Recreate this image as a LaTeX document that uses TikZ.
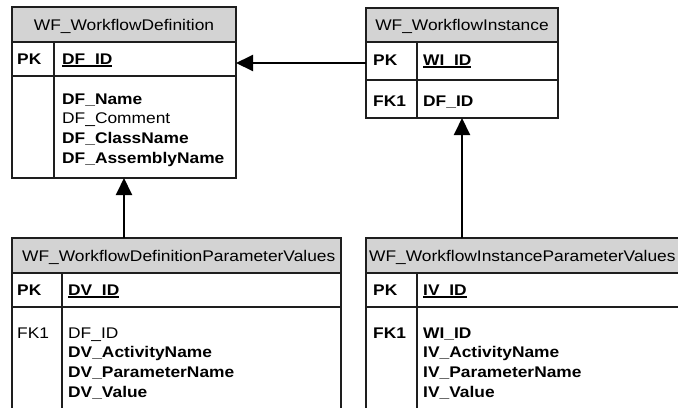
\documentclass[tikz,border=0pt]{standalone}
\usepackage{fontspec}
\setmainfont{Liberation Sans}[FakeStretch=1.125]
\usetikzlibrary{arrows.meta}
\definecolor{hdrgray}{HTML}{D3D3D3}
\definecolor{edgegray}{HTML}{1E1E1E}

% primary-key column text: underlined just below the baseline
\newcommand\pkname[1]{\setbox0\hbox{#1}\rlap{\rule[-2.6bp]{\wd0}{1.3bp}}\box0}

\begin{document}
\begin{tikzpicture}[x=1bp,y=-1bp,
  tbl/.style={draw=edgegray, line width=1.1bp, inner sep=0, outer sep=0, anchor=north west},
  hdr/.style={tbl, fill=hdrgray},
  sep/.style={draw=edgegray, line width=1.1bp},
  txt/.style={anchor=base west, inner sep=0, font=\fontsize{15.5}{18}\selectfont},
  btxt/.style={txt, font=\fontsize{15.5}{18}\selectfont\bfseries},
  htxt/.style={anchor=base, inner sep=0, font=\fontsize{15.5}{18}\selectfont},
  rel/.style={draw=black, line width=2bp, -{Triangle[length=17bp,width=16bp]}}]
\useasboundingbox (0,0) rectangle (678,407);
\clip (0,0) rectangle (678,407);

% ---- WF_WorkflowDefinition ----
\node[tbl, minimum width=224bp, minimum height=171bp] (def) at (12,7) {};
\node[hdr, minimum width=224bp, minimum height=35bp] (defh) at (12,7) {};
\node[tbl, minimum width=224bp, minimum height=34bp] (defpk) at (12,42) {};
\draw[sep] (54,42) -- (54,178);
\node[htxt] (defht) at (124,30) {WF\_WorkflowDefinition};
\node[btxt] (defk1) at (17,64) {PK};
\node[btxt] (defc1) at (62,64) {\pkname{DF\_ID}};
\node[btxt] (defc2) at (62,104) {DF\_Name};
\node[txt]  (defc3) at (62,123.5) {DF\_Comment};
\node[btxt] (defc4) at (62,143) {DF\_ClassName};
\node[btxt] (defc5) at (62,163) {DF\_AssemblyName};

% ---- WF_WorkflowInstance ----
\node[tbl, minimum width=192bp, minimum height=110bp] (wi) at (366,8) {};
\node[hdr, minimum width=192bp, minimum height=34bp] (wih) at (366,8) {};
\node[tbl, minimum width=192bp, minimum height=38bp] (wipk) at (366,42) {};
\draw[sep] (417,42) -- (417,118);
\node[htxt] (wiht) at (462,30) {WF\_WorkflowInstance};
\node[btxt] (wik1) at (373,65) {PK};
\node[btxt] (wic1) at (423,65) {\pkname{WI\_ID}};
\node[btxt] (wik2) at (373,106) {FK1};
\node[btxt] (wic2) at (423,106) {DF\_ID};

% ---- WF_WorkflowDefinitionParameterValues ----
\node[tbl, minimum width=329bp, minimum height=185bp] (dpv) at (12,238) {};
\node[hdr, minimum width=329bp, minimum height=35bp] (dpvh) at (12,238) {};
\node[tbl, minimum width=329bp, minimum height=34bp] (dpvpk) at (12,273) {};
\draw[sep] (62,273) -- (62,423);
\node[txt] (dpvht) at (22,261) {WF\_WorkflowDefinitionParameterValues};
\node[btxt] (dpvk1) at (17,295) {PK};
\node[btxt] (dpvc1) at (68,295) {\pkname{DV\_ID}};
\node[txt]  (dpvk2) at (17,338) {FK1};
\node[txt]  (dpvc2) at (68,338) {DF\_ID};
\node[btxt] (dpvc3) at (68,357) {DV\_ActivityName};
\node[btxt] (dpvc4) at (68,377) {DV\_ParameterName};
\node[btxt] (dpvc5) at (68,397) {DV\_Value};

% ---- WF_WorkflowInstanceParameterValues ----
\node[tbl, minimum width=340bp, minimum height=185bp] (ipv) at (366,238) {};
\node[hdr, minimum width=340bp, minimum height=35bp] (ipvh) at (366,238) {};
\node[tbl, minimum width=340bp, minimum height=34bp] (ipvpk) at (366,273) {};
\draw[sep] (417,273) -- (417,423);
\node[txt] (ipvht) at (369,261) {WF\_WorkflowInstanceParameterValues};
\node[btxt] (ipvk1) at (373,295) {PK};
\node[btxt] (ipvc1) at (423,295) {\pkname{IV\_ID}};
\node[btxt] (ipvk2) at (373,338) {FK1};
\node[btxt] (ipvc2) at (423,338) {WI\_ID};
\node[btxt] (ipvc3) at (423,357) {IV\_ActivityName};
\node[btxt] (ipvc4) at (423,377) {IV\_ParameterName};
\node[btxt] (ipvc5) at (423,397) {IV\_Value};

% ---- relationships ----
\coordinate (wiout) at ([yshift=-2bp]wipk.west);
\draw[rel] (wiout) -- (wiout -| def.east);
\draw[rel] (def.south |- dpv.north) -- (def.south);
\draw[rel] (wi.south |- ipv.north) -- (wi.south);
\end{tikzpicture}
\end{document}
